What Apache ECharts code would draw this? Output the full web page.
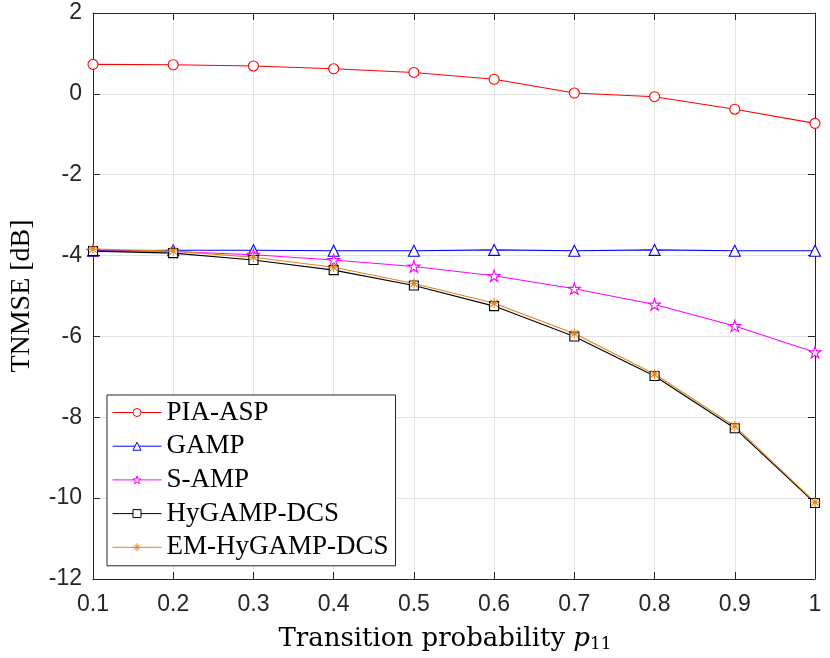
<!DOCTYPE html>
<html>
<head>
<meta charset="utf-8">
<script src="https://cdn.jsdelivr.net/npm/echarts@6/dist/echarts.min.js"></script>
<style>
html,body{margin:0;padding:0;background:#fff;}
#chart{width:830px;height:658px;}
</style>
</head>
<body>
<div id="chart"></div>
<script>
const categories = ['0.1','0.2','0.3','0.4','0.5','0.6','0.7','0.8','0.9','1'];
const yTicks = [-12,-10,-8,-6,-4,-2,0,2];
const piaAsp = [0.73, 0.72, 0.69, 0.62, 0.53, 0.36, 0.02, -0.07, -0.38, -0.73];
const gamp = [-3.88, -3.87, -3.87, -3.88, -3.88, -3.86, -3.88, -3.86, -3.88, -3.88];
const sAmp = [-3.88, -3.90, -3.98, -4.11, -4.27, -4.50, -4.82, -5.21, -5.74, -6.39];
const hyGampDcs = [-3.89, -3.94, -4.11, -4.36, -4.74, -5.25, -6.00, -6.98, -8.27, -10.12];
const emHyGampDcs = [-3.84, -3.89, -4.04, -4.29, -4.69, -5.18, -5.93, -6.93, -8.22, -10.10];

const starPath = 'path://M0,-1 L0.2245,-0.309 L0.951,-0.309 L0.3633,0.118 L0.5878,0.809 L0,0.382 L-0.5878,0.809 L-0.3633,0.118 L-0.951,-0.309 L-0.2245,-0.309 Z';
const asteriskPath = 'path://M0,-1 L0,1 M-1,0 L1,0 M-0.707,-0.707 L0.707,0.707 M-0.707,0.707 L0.707,-0.707';

const seriesDefs = [
  {name: 'PIA-ASP', data: piaAsp, color: '#ff0000', symbol: 'circle', size: 10},
  {name: 'GAMP', data: gamp, color: '#0000ff', symbol: 'triangle', size: 11},
  {name: 'S-AMP', data: sAmp, color: '#ff00ff', symbol: starPath, size: 12},
  {name: 'HyGAMP-DCS', data: hyGampDcs, color: '#000000', symbol: 'rect', size: 9},
  {name: 'EM-HyGAMP-DCS', data: emHyGampDcs, color: '#e0851a', symbol: asteriskPath, size: 10}
];

function markStyle(d, w) {
  return {color: '#ffffff', borderColor: d.color, borderWidth: w};
}

const chart = echarts.init(document.getElementById('chart'), null, {renderer:'canvas'});

const series = seriesDefs.map(d => ({
  name: d.name,
  type: 'line',
  data: d.data,
  symbol: d.symbol,
  symbolSize: d.size,
  symbolKeepAspect: true,
  showAllSymbol: true,
  lineStyle: {color: d.color, width: 1.1},
  itemStyle: markStyle(d, 1.1),
  emphasis: {disabled: true},
  animation: false,
  z: 3
}));

const legendData = seriesDefs.map(d => ({
  name: d.name,
  itemStyle: markStyle(d, 1),
  lineStyle: {color: d.color, width: 1}
}));

const axisCol = '#262626';
const gridCol = '#e3e3e3';
const tickFont = {fontFamily: 'Liberation Sans', fontSize: 23, color: '#262626'};

chart.setOption({
  backgroundColor: '#ffffff',
  animation: false,
  grid: {left: 91, right: 15, top: 13, bottom: 79, containLabel: false},
  legend: {
    orient: 'vertical',
    left: 107,
    top: 395,
    padding: [4, 7, 5, 5],
    itemWidth: 49,
    itemHeight: 10,
    itemGap: 6.7,
    backgroundColor: '#ffffff',
    borderColor: '#262626',
    borderWidth: 1,
    borderRadius: 0,
    textStyle: {fontFamily: 'Liberation Serif', fontSize: 27, lineHeight: 26, color: '#000'},
    data: legendData
  },
  xAxis: [{
    type: 'category',
    data: categories,
    boundaryGap: false,
    axisLine: {show: true, onZero: false, lineStyle: {color: axisCol, width: 1}},
    axisTick: {show: true, inside: true, length: 7, alignWithLabel: true, lineStyle: {color: axisCol}},
    axisLabel: Object.assign({margin: 14}, tickFont),
    splitLine: {show: true, lineStyle: {color: gridCol, width: 1}},
    name: '{a|Transition probability }{p|p}{s|11}',
    nameLocation: 'middle',
    nameGap: 47,
    nameTextStyle: {
      padding: [0, 18, 0, 0],
      rich: {
        a: {fontFamily: 'DejaVu Serif', fontSize: 26, color: '#000'},
        p: {fontFamily: 'DejaVu Serif', fontStyle: 'italic', fontSize: 26, color: '#000'},
        s: {fontFamily: 'DejaVu Serif', fontSize: 17, color: '#000', verticalAlign: 'bottom', padding: [10,0,0,0]}
      }
    }
  }, {
    type: 'category',
    data: categories,
    boundaryGap: false,
    position: 'top',
    axisLine: {show: true, onZero: false, lineStyle: {color: axisCol, width: 1}},
    axisTick: {show: true, inside: true, length: 7, alignWithLabel: true, lineStyle: {color: axisCol}},
    axisLabel: {show: false},
    splitLine: {show: false}
  }],
  yAxis: [{
    type: 'value',
    min: yTicks[0],
    max: yTicks[yTicks.length-1],
    interval: 2,
    axisLine: {show: true, onZero: false, lineStyle: {color: axisCol, width: 1}},
    axisTick: {show: true, inside: true, length: 7, lineStyle: {color: axisCol}},
    axisLabel: Object.assign({margin: 11}, tickFont),
    splitLine: {show: true, lineStyle: {color: gridCol, width: 1}},
    name: 'TNMSE [dB]',
    nameLocation: 'middle',
    nameRotate: 90,
    nameGap: 57,
    nameTextStyle: {fontFamily: 'Liberation Serif', fontSize: 28, color: '#000'}
  }, {
    type: 'value',
    min: yTicks[0],
    max: yTicks[yTicks.length-1],
    interval: 2,
    position: 'right',
    axisLine: {show: true, onZero: false, lineStyle: {color: axisCol, width: 1}},
    axisTick: {show: true, inside: true, length: 7, lineStyle: {color: axisCol}},
    axisLabel: {show: false},
    splitLine: {show: false}
  }],
  series: series
});
</script>
</body>
</html>
